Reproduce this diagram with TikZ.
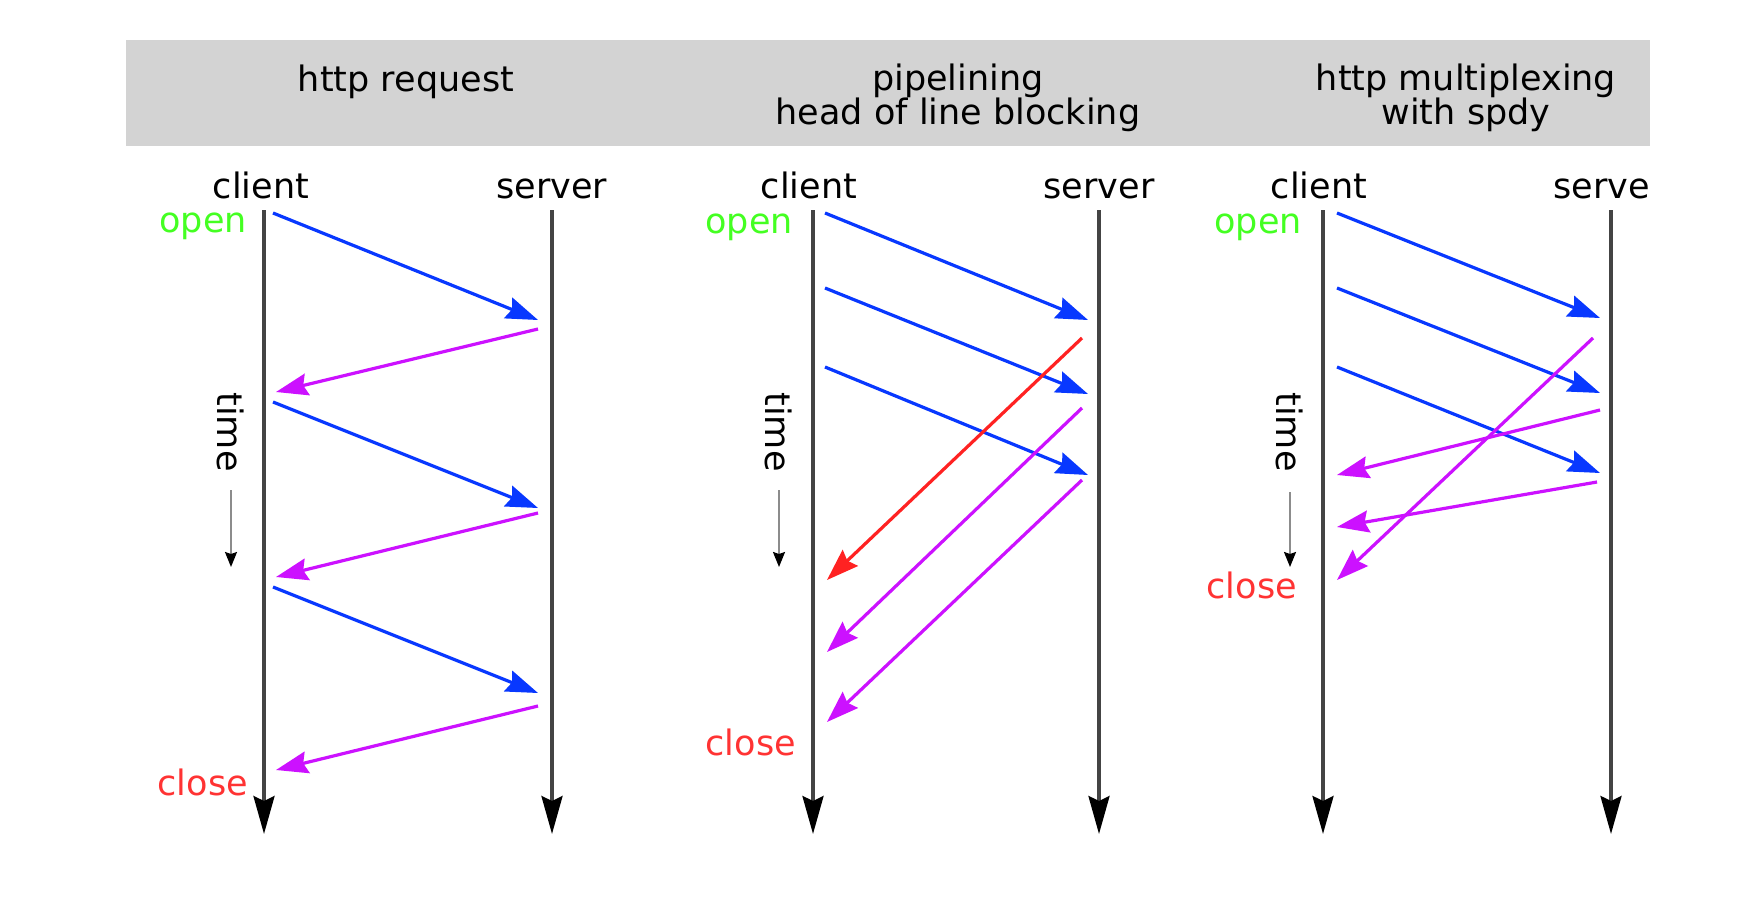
\documentclass[tikz,border=0pt]{standalone}
\usepackage{fontspec}
\setmainfont{DejaVu Sans}
\usetikzlibrary{arrows.meta}
\definecolor{reqblue}{HTML}{0838FF}
\definecolor{respmag}{HTML}{CC11FF}
\definecolor{openg}{HTML}{44FF22}
\definecolor{closer}{HTML}{FF3333}
\definecolor{blockred}{HTML}{FF2222}
\definecolor{barg}{HTML}{D3D3D3}
\definecolor{lifeg}{HTML}{444444}
\begin{document}
\begin{tikzpicture}[x=1pt,y=-1pt,
  txt/.style={font=\fontsize{35}{33}\selectfont, inner sep=0pt},
  head/.style={txt, anchor=base, text=black},
  title/.style={txt, anchor=base, text=black},
  openlbl/.style={txt, anchor=base east, text=openg},
  closelbl/.style={txt, anchor=base east, text=closer},
  timelbl/.style={txt, rotate=-90, text=black},
  lifeline/.style={draw=lifeg, line width=3.5pt, -{Stealth[length=38pt,width=21pt,inset=5pt,color=black]}},
  timearrow/.style={draw=black!45, line width=1.8pt, -{Stealth[length=15pt,width=12pt,inset=2pt,color=black]}},
  msg/.style={line width=3.2pt, -{Stealth[length=32pt,width=22pt,inset=4pt]}},
  req/.style={msg, draw=reqblue, fill=reqblue},
  resp/.style={msg, draw=respmag, fill=respmag},
  block/.style={msg, draw=blockred, fill=blockred}]
\useasboundingbox (0,0) rectangle (1748,902);
\fill[white] (0,0) rectangle (1748,902);
\begin{scope}
\clip (0,0) rectangle (1650,902);
% header bar
\fill[barg] (126,40) rectangle (1650,146);
\node[title] (t1) at (406,91) {http request};
\node[title] (t2a) at (958,90) {pipelining};
\node[title] (t2b) at (958,124) {head of line blocking};
\node[title] (t3a) at (1466,90) {http multiplexing};
\node[title] (t3b) at (1466,124) {with spdy};

% ---------- panel 1 ----------
\node[head] (cl1) at (261,198) {client};
\node[head] (sv1) at (552,198) {server};
\coordinate (c1t) at (264,210); \coordinate (c1b) at (264,834);
\coordinate (s1t) at (552,210); \coordinate (s1b) at (552,834);
\draw[lifeline] (c1t) -- (c1b);
\draw[lifeline] (s1t) -- (s1b);
\node[openlbl] (op1) at (247,232) {open};
\node[closelbl] (cs1) at (248,795) {close};
\node[timelbl] (tm1) at (231,432) {time};
\coordinate (ta1) at (231,490); \coordinate (tb1) at (231,567);
\draw[timearrow] (ta1) -- (tb1);
\coordinate (p1a) at (273,213); \coordinate (p1b) at (538,320);
\coordinate (p1c) at (538,329); \coordinate (p1d) at (276,392);
\coordinate (p1e) at (273,402); \coordinate (p1f) at (538,508);
\coordinate (p1g) at (538,513); \coordinate (p1h) at (276,577);
\coordinate (p1i) at (273,587); \coordinate (p1j) at (538,693);
\coordinate (p1k) at (538,706); \coordinate (p1l) at (276,770);
\draw[req] (p1a) -- (p1b);
\draw[resp] (p1c) -- (p1d);
\draw[req] (p1e) -- (p1f);
\draw[resp] (p1g) -- (p1h);
\draw[req] (p1i) -- (p1j);
\draw[resp] (p1k) -- (p1l);

% ---------- panel 2 ----------
\node[head] (cl2) at (809,198) {client};
\node[head] (sv2) at (1099,198) {server};
\coordinate (c2t) at (813,210); \coordinate (c2b) at (813,834);
\coordinate (s2t) at (1099,210); \coordinate (s2b) at (1099,834);
\draw[lifeline] (c2t) -- (c2b);
\draw[lifeline] (s2t) -- (s2b);
\node[openlbl] (op2) at (793,233) {open};
\node[closelbl] (cs2) at (796,755) {close};
\node[timelbl] (tm2) at (779,432) {time};
\coordinate (ta2) at (779,490); \coordinate (tb2) at (779,567);
\draw[timearrow] (ta2) -- (tb2);
\coordinate (p2a) at (825,213); \coordinate (p2b) at (1088,320);
\coordinate (p2c) at (825,288); \coordinate (p2d) at (1088,394);
\coordinate (p2e) at (825,367); \coordinate (p2f) at (1088,475);
\coordinate (p2g) at (1082,338); \coordinate (p2h) at (827,580);
\coordinate (p2i) at (1082,408); \coordinate (p2j) at (827,652);
\coordinate (p2k) at (1082,480); \coordinate (p2l) at (827,722);
\draw[req] (p2a) -- (p2b);
\draw[req] (p2c) -- (p2d);
\draw[req] (p2e) -- (p2f);
\draw[block] (p2g) -- (p2h);
\draw[resp] (p2i) -- (p2j);
\draw[resp] (p2k) -- (p2l);

% ---------- panel 3 ----------
\node[head] (cl3) at (1319,198) {client};
\node[head] (sv3) at (1609,198) {server};
\coordinate (c3t) at (1323,210); \coordinate (c3b) at (1323,834);
\coordinate (s3t) at (1611,210); \coordinate (s3b) at (1611,834);
\draw[lifeline] (c3t) -- (c3b);
\draw[lifeline] (s3t) -- (s3b);
\node[openlbl] (op3) at (1302,233) {open};
\node[closelbl] (cs3) at (1297,598) {close};
\node[timelbl] (tm3) at (1290,432) {time};
\coordinate (ta3) at (1290,492); \coordinate (tb3) at (1290,567);
\draw[timearrow] (ta3) -- (tb3);
\coordinate (p3a) at (1337,213); \coordinate (p3b) at (1600,318);
\coordinate (p3c) at (1337,288); \coordinate (p3d) at (1600,393);
\coordinate (p3e) at (1337,367); \coordinate (p3f) at (1600,473);
\coordinate (p3g) at (1593,338); \coordinate (p3h) at (1337,580);
\coordinate (p3i) at (1600,410); \coordinate (p3j) at (1337,475);
\coordinate (p3k) at (1597,482); \coordinate (p3l) at (1337,527);
\draw[req] (p3a) -- (p3b);
\draw[req] (p3c) -- (p3d);
\draw[req] (p3e) -- (p3f);
\draw[resp] (p3g) -- (p3h);
\draw[resp] (p3i) -- (p3j);
\draw[resp] (p3k) -- (p3l);
\end{scope}
\end{tikzpicture}
\end{document}
